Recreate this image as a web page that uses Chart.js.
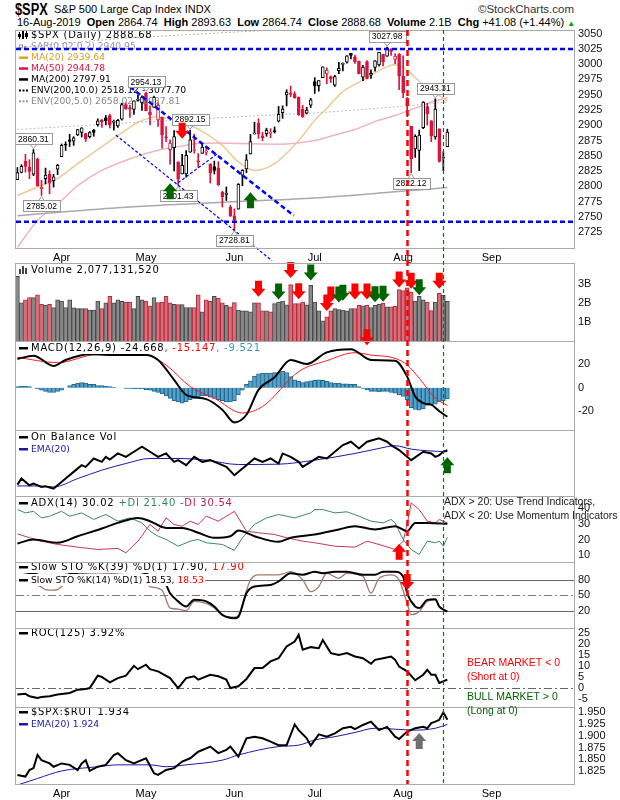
<!DOCTYPE html>
<html>
<head>
<meta charset="utf-8">
<script src="https://cdn.jsdelivr.net/npm/chart.js@4.4.1/dist/chart.umd.min.js"></script>
<style>
  body{margin:0;width:620px;height:800px;background:#fff;position:relative;overflow:hidden;font-family:"Liberation Sans",Arial,sans-serif}
  canvas{position:absolute;left:0;top:0}
  .t{position:absolute;white-space:pre;color:#000;line-height:1}
</style>
</head>
<body>
<div class="t" style="left:15px;top:2px;font-size:16px;font-weight:bold;transform:scaleX(0.8);transform-origin:left">$SPX</div>
<div class="t" style="left:54px;top:4px;font-size:11px">S&amp;P 500 Large Cap Index INDX</div>
<div class="t" style="right:46px;top:4px;font-size:11.5px;color:#333">©StockCharts.com</div>
<div class="t" style="left:17px;top:17px;font-size:11px">16-Aug-2019  <b>Open</b> 2864.74  <b>High</b> 2893.63  <b>Low</b> 2864.74  <b>Close</b> 2888.68  <b>Volume</b> 2.1B  <b>Chg</b> +41.08 (+1.44%) <span style="color:#0a0;font-size:8px">▲</span></div>
<script>
// daily bars, 15-Mar-2019 .. 16-Aug-2019 (index 0..107)
const PREV_CLOSE = 2808.48;
const OPEN = [2810.79,2822.61,2840.76,2831.34,2819.72,2844.52,2796.01,2812.66,2819.72,2809.40,2828.27,
  2848.63,2868.24,2876.09,2873.99,2884.16,2888.46,2886.58,2881.37,2891.92,2900.86,2908.32,2912.26,2916.04,2904.81,2898.78,2909.99,2934.00,2928.99,2925.81,2940.58,2937.14,
  2952.33,2922.16,2929.21,2908.89,2913.03,2879.61,2859.84,2863.10,2840.19,2820.12,2820.38,2855.80,2858.60,2841.94,2854.02,2856.06,2836.70,2832.41,2830.03,2790.25,2786.94,2766.15,
  2751.53,2762.64,2818.09,2828.51,2852.87,2885.83,2903.27,2882.73,2886.24,2886.82,2889.75,2906.71,2920.55,2949.60,2952.71,2951.42,2945.78,2926.07,2919.66,2932.94,
  2971.41,2964.66,2978.08,2984.25,2979.77,2965.52,2989.30,2999.62,3003.36,3017.80,3012.13,3005.10,2978.87,3004.26,2981.93,2994.74,2998.77,3016.26,3013.25,3024.47,3007.66,3016.22,
  2980.32,2943.90,2898.07,2861.18,2858.65,2896.21,2930.51,2907.07,2880.72,2894.15,2846.20,2864.74];
const HIGH = [2830.73,2835.41,2852.42,2843.54,2860.31,2846.16,2809.79,2829.87,2825.56,2819.71,2836.03,
  2869.40,2872.90,2885.25,2881.28,2893.24,2895.95,2886.88,2889.71,2893.42,2910.54,2909.60,2916.06,2918.00,2908.40,2909.51,2936.31,2936.83,2933.10,2939.88,2949.52,2948.22,
  2954.13,2931.68,2947.85,2937.32,2913.03,2897.96,2875.97,2891.31,2840.19,2852.54,2858.68,2892.15,2885.48,2853.86,2868.88,2865.47,2836.70,2841.36,2840.51,2792.03,2799.00,2768.98,
  2763.07,2804.49,2827.28,2852.10,2884.97,2904.77,2910.61,2888.57,2895.24,2894.45,2897.27,2930.79,2931.74,2958.06,2964.15,2954.92,2946.52,2932.59,2929.30,2943.98,
  2977.93,2973.21,2995.84,2994.03,2980.76,2981.90,3002.98,3002.33,3013.92,3017.80,3015.02,3005.26,2998.28,3006.02,2990.71,3005.90,3019.59,3016.31,3027.98,3025.61,3017.19,3017.40,
  3013.59,2945.50,2898.07,2884.40,2892.17,2938.72,2935.75,2907.58,2943.31,2894.15,2856.67,2893.63];
const LOW = [2810.79,2821.99,2823.27,2812.43,2817.38,2800.47,2785.02,2803.99,2787.72,2798.77,2819.23,
  2848.63,2858.75,2865.17,2867.14,2882.99,2880.78,2873.33,2879.13,2881.99,2898.37,2896.48,2900.71,2895.45,2891.90,2896.35,2908.53,2926.05,2912.84,2917.56,2939.35,2924.11,
  2923.36,2900.50,2929.21,2898.21,2862.60,2873.28,2836.40,2825.39,2801.43,2820.12,2815.08,2855.80,2854.23,2831.29,2854.02,2851.11,2805.49,2820.19,2801.58,2766.06,2776.74,2750.52,
  2728.81,2762.64,2800.92,2822.45,2852.87,2885.51,2878.53,2874.68,2881.99,2879.62,2887.30,2905.44,2911.43,2931.50,2946.87,2944.05,2916.01,2912.99,2918.57,2929.05,
  2952.22,2955.92,2977.96,2967.97,2970.09,2963.44,2984.62,2988.80,3001.87,3008.77,3001.15,2984.25,2973.09,2975.86,2976.65,2988.56,2996.82,2997.24,3012.59,3014.30,3000.94,2958.08,
  2945.23,2914.11,2822.12,2847.42,2825.71,2894.47,2900.15,2873.14,2877.05,2839.64,2825.51,2864.74];
const CLOSE = [2822.48,2832.94,2832.57,2824.23,2854.88,2800.71,2798.36,2818.46,2805.37,2815.44,2834.40,
  2867.19,2867.24,2873.40,2879.39,2892.74,2895.77,2878.20,2888.21,2888.32,2907.41,2905.58,2907.06,2900.45,2905.03,2907.97,2933.68,2927.25,2926.17,2939.88,2943.03,2945.83,
  2923.73,2917.52,2945.64,2932.47,2884.05,2879.42,2870.72,2881.40,2811.87,2834.41,2850.96,2876.32,2859.53,2840.23,2864.36,2856.27,2822.24,2826.06,2802.39,2783.02,2788.86,2752.06,
  2744.45,2803.27,2826.15,2843.49,2873.34,2886.73,2885.72,2879.84,2891.64,2886.98,2889.67,2917.75,2926.46,2954.18,2950.46,2945.35,2917.38,2913.78,2924.92,2941.76,
  2964.33,2973.01,2995.82,2990.41,2975.95,2979.63,2993.07,2999.91,3013.77,3014.30,3004.04,2984.42,2995.11,2976.61,2985.03,3005.47,3019.56,3003.67,3025.86,3020.97,3013.18,2980.38,
  2953.56,2932.05,2844.74,2881.77,2883.98,2938.09,2918.65,2882.70,2926.32,2840.60,2847.60,2888.68];
// volume in billions
const VOLUME = [3.4,2.0,2.17,2.28,2.28,2.43,1.93,1.88,1.93,1.76,2.17,
  2.1,1.76,2.17,1.74,1.7,1.7,1.7,1.62,1.62,2.1,1.7,2.0,2.35,2.0,2.17,2.09,2.05,2.05,1.7,2.35,2.17,
  2.1,1.84,2.28,2.02,2.05,2.35,2.0,1.93,1.91,1.91,1.76,1.76,1.76,2.43,1.53,2.17,2.09,2.35,2.26,2.0,1.88,1.79,
  2.02,1.62,1.58,1.58,1.53,2.0,2.0,1.58,1.58,1.53,1.97,2.05,2.1,1.9,2.96,1.97,1.97,2.05,1.9,2.92,
  2.05,1.58,1.06,1.27,1.58,1.7,1.65,1.62,1.58,1.7,1.7,1.88,1.85,1.88,1.76,1.88,1.93,1.99,1.79,1.79,1.82,2.7,
  2.65,2.8,2.57,2.1,2.35,2.17,2.05,1.6,2.05,2.5,2.4,2.08];

// overlays: [day index, value]
const MA20 = [[0,2785],[5,2799],[10,2813],[15,2837],[21,2865],[27,2892],[30,2905],[35,2914],[40,2906],[43,2900],[47,2886],[51,2867],[55,2840],[59,2826],[64,2837],[70,2875],[74,2908],[77,2928],[81,2955],[86,2974],[91,2993],[94,2999],[97,2990],[100,2972],[104,2953],[107,2940]];
const MA50 = [[0,2700],[5,2744],[10,2771],[15,2801],[21,2826],[28,2845],[35,2859],[40,2865],[45,2870],[50,2871],[55,2870],[65,2869],[74,2875],[79,2884],[84,2893],[89,2906],[94,2916],[99,2928],[104,2940],[107,2945]];
const MA200 = [[0,2752],[25,2765],[55,2775],[74,2781],[94,2791],[107,2798]];
const ENV5_UP = [[0,2893],[25,2903],[55,2914],[74,2920],[94,2930],[107,2938]];
const ENV10_UP = [[0,3027],[25,3042],[55,3053],[74,3059],[94,3070],[107,3078]];

const MACD_HIST = [1,1.5,1.5,1,0,-1,-2,-3,-4,-4,-3,-2,0,2,3,4,4.5,4,3,3,2,2,1.5,1,0.5,0,0,-0.5,-0.5,-1,-1,-1,-1.5,
  -2,-3,-4,-5,-7,-9,-11,-12,-13,-12,-10,-9,-8,-7,-7,-8,-9,-10,-11,-12,-12,-11,-6,-2,3,6,10,12,12.5,12.5,12.5,13,13,14,13,
  9.6,6.8,5.5,4.5,5.4,6,6.5,6.8,6.5,5.5,4.5,4,4,3.5,3.5,3,3,1,-0.5,-1.7,-3,-3,-3.5,-3,-3,-4,-4.5,-6,-7.4,-10,
  -17,-18.5,-19,-18,-15,-14.4,-14,-12,-11,-9.5];
const MACD_LINE = [[0,24.6],[4,27.5],[9,18.7],[12,23.8],[18,28.6],[25,28],[32,28],[35,23.8],[39,6.8],[42,-6],[47,-9.6],[51,-18.7],[54,-29.5],[57,-23],[60,-1.7],[64,9],[68,23.8],[72,20.4],[77,30.3],[83,33],[88,23.8],[94,23.2],[97,9.6],[99,-7.4],[101,-13],[103,-14.4],[105,-20],[107,-24.7]];
const MACD_SIGNAL = [[0,26],[10,21.5],[20,28.6],[32,28],[37,19.5],[43,1.1],[49,-8.8],[56,-21.5],[61,-16],[70,13.9],[77,23.2],[84,30],[88,28],[94,25.2],[97,19.5],[100,8.2],[104,-8.8],[107,-15.1]];

const OBV = [[0,2.2],[1,4.0],[3,2.0],[4,2.5],[6,1.5],[7,1.7],[9,1.0],[10,2.0],[12,4.0],[14,6.0],[16,8.0],[17,7.5],[19,10.0],[21,9.0],[22,10.5],[23,9.7],[25,11.5],[27,10.5],[29,12.0],[31,13.5],[33,12.0],[35,10.5],[37,11.5],[39,9.0],[40,9.5],[42,8.0],[44,10.5],[46,9.0],[48,9.5],[51,8.0],[52,7.5],[54,5.0],[57,8.0],[59,10.0],[61,9.0],[63,10.0],[65,8.5],[66,11.5],[68,10.5],[70,9.0],[71,7.5],[73,9.0],[75,10.5],[77,10.0],[79,12.0],[81,14.0],[83,15.0],[84,14.0],[85,13.0],[87,15.0],[90,16.0],[92,15.0],[93,14.0],[95,12.5],[98,9.5],[101,12.0],[103,11.5],[104,10.5],[105,11.0],[106,12.0],[107,12.5]];
const OBV_EMA = [[0,1.8],[5,1.8],[9,1.5],[15,4.0],[21,6.5],[27,8.5],[33,10.0],[40,10.0],[47,9.5],[55,8.2],[65,8.3],[74,9.5],[84,11.5],[90,13.0],[94,13.8],[98,12.8],[102,12.3],[107,12.0]];

const ADX = [[0,17.4],[4,20],[10,17.9],[15,22.1],[21,27],[25,30.6],[30,33.8],[33,31.7],[37,27.4],[41,27.4],[45,24.3],[49,21.1],[53,22.1],[55,25.7],[59,22.1],[65,18.5],[68,21.1],[74,23.2],[80,26.4],[84,28.5],[89,26.4],[94,28.5],[97,25.3],[99,30.6],[102,30.6],[107,30.0]];
const PLUS_DI = [[0,39.1],[2,37],[4,38],[6,33.8],[8,34.9],[11,38],[13,34.9],[16,37],[19,32.8],[22,36],[25,31.7],[28,33.8],[31,30.6],[33,25.3],[35,22.1],[37,20],[40,15.7],[43,18.9],[45,20],[47,17.9],[51,16.8],[54,13],[56,21.1],[59,29.6],[62,33.8],[65,36],[69,33.8],[73,37],[74,39.1],[76,39.1],[79,37],[82,37.7],[85,34.9],[88,31.7],[91,30.6],[93,32.8],[94,30.6],[96,20],[98,13.6],[100,10.4],[102,18.9],[104,17.9],[105,18.9],[106,15.7],[107,21.4]];
const MINUS_DI = [[0,23.6],[3,21.1],[6,18.9],[10,16.8],[15,15.1],[20,13.6],[25,14.3],[27,11.5],[30,18.9],[33,29.6],[35,25.3],[37,33.8],[39,29.6],[41,28.5],[43,31.7],[45,29.6],[47,34.9],[50,31.7],[54,38],[57,25.3],[60,24.3],[64,23.2],[67,21.1],[71,18.9],[74,17.9],[79,15.7],[84,15.1],[87,18.9],[90,16.8],[94,13.6],[96,18.9],[97,29.6],[98,43.4],[100,39.1],[102,31.7],[104,30.6],[105,32.8],[107,30.5]];

const STO39 = [[0,88],[4,92],[8,84],[12,90],[16,95],[20,96],[24,96],[28,97],[31,95],[34,85],[37,70],[38,54],[40,38],[42,28],[44,41],[47,38],[49,28],[51,11.5],[54,5],[55,8],[57,54],[59,67],[63,70],[65,77],[68,93],[71,90],[74,96],[76,93],[79,96],[82,96],[86,90],[89,90],[91,96],[94,96],[96,86],[97,54],[99,28],[100,25],[102,41],[104,42],[105,28],[107,17.9]];
const STO14 = [[0,85],[2,80],[4,75],[5,70],[6,66],[7,61],[9,60],[10,61],[11,67],[13,82],[16,92],[20,94],[24,92],[28,88],[31,78],[33,67],[36,60],[38,25],[40,23],[42,20],[44,38],[47,34],[49,25],[51,11.5],[54,7],[55,11.5],[58,80],[60,90],[65,90],[68,96],[71,80],[73,57],[75,67],[77,93],[80,83],[82,93],[86,87],[88,54],[90,83],[93,90],[95,80],[97,34],[98,12],[100,18],[102,38],[104,41],[105,28],[107,18.5]];

const ROC = [[0,-2.8],[2,-2.5],[3,-3.6],[5,-4.3],[6,-3.9],[8,-3.6],[10,-2.8],[13,-2.1],[15,-0.6],[17,-0.3],[18,0.1],[20,5.7],[21,5.1],[23,2.7],[25,4.6],[27,5.7],[29,10.1],[30,8.6],[32,10.6],[33,8.6],[35,7.6],[38,4.6],[40,0.1],[42,4.6],[44,5.4],[45,3.9],[48,6.1],[50,5.4],[52,3.9],[53,0.1],[55,0.9],[57,4.2],[59,9.1],[61,9.1],[63,12.1],[65,13.5],[67,18.8],[69,21],[70,24],[71,17.3],[73,18.5],[75,18],[76,21.7],[78,15.8],[80,15],[82,15.8],[84,14.3],[86,13.5],[88,11],[89,12.8],[91,13.5],[93,14.3],[94,12.8],[95,9.8],[97,7.6],[99,3.6],[101,6.1],[102,8.3],[103,6.1],[104,6.1],[105,2.4],[107,3.9]];

const RATIO = [[0,1.8165],[2,1.813],[3,1.827],[4,1.831],[5,1.859],[6,1.848],[8,1.841],[9,1.834],[11,1.841],[13,1.838],[15,1.827],[16,1.841],[17,1.848],[18,1.825],[20,1.834],[22,1.838],[24,1.859],[25,1.863],[27,1.848],[29,1.841],[30,1.845],[32,1.852],[34,1.820],[35,1.8165],[37,1.827],[39,1.831],[41,1.845],[43,1.852],[45,1.866],[47,1.873],[48,1.877],[50,1.863],[52,1.870],[53,1.877],[55,1.8555],[57,1.8946],[59,1.898],[61,1.8946],[63,1.8875],[65,1.880],[67,1.880],[69,1.924],[70,1.912],[72,1.8946],[73,1.879],[75,1.903],[77,1.898],[79,1.905],[81,1.916],[83,1.919],[84,1.914],[86,1.923],[88,1.930],[90,1.912],[92,1.919],[94,1.898],[95,1.893],[97,1.909],[99,1.916],[101,1.919],[102,1.916],[103,1.927],[104,1.930],[105,1.934],[106,1.950],[107,1.934]];
const RATIO_EMA = [[0,1.795],[5,1.809],[11,1.825],[20,1.834],[25,1.838],[33,1.838],[37,1.834],[42,1.838],[51,1.848],[55,1.859],[65,1.877],[70,1.880],[74,1.891],[79,1.898],[84,1.907],[89,1.916],[94,1.914],[99,1.912],[104,1.916],[107,1.924]];

// x axis
const MONTHS = ['Apr','May','Jun','Jul','Aug','Sep'];
const MONTH_AT = [11, 32, 54, 74, 96, 118];
const X_MIN = -0.35, X_MAX = 138.52;

// annotations
const RESISTANCE = 3025, SUPPORT = 2742;
const TRENDS = [[28, 2963, 68.8, 2752, 2.5], [24.5, 2884, 63.4, 2678, 1.2], [40, 2806, 49.9, 2854, 1.2]];
const TAGS = [[4,'H'],[6,'L'],[32,'H'],[43,'H'],[40,'L'],[54,'L'],[92,'H'],[98,'L'],[104,'H']];
const PRICE_ARROWS = [[41, 2891, -1, 'r'], [38, 2792, 1, 'g'], [58, 2777, 1, 'g']];
const VOL_ARROWS = [[60,2.75,'r'],[65,2.6,'g'],[68,3.73,'r'],[70,2.62,'r'],[73,3.6,'g'],[77,2.0,'r'],[78,2.44,'r'],[80,2.44,'g'],[81,2.54,'g'],[84,2.6,'r'],[87,2.6,'r'],[89,2.46,'g'],[91,2.49,'g'],[95,3.23,'r'],[98,3.17,'r'],[100,2.83,'g'],[105,3.17,'r'],[87,0.2,'r']];
const MARKS = [[97, '#ff0000', 2.5, [6, 4]], [106, '#008000', 1.2, [4, 3]]];

const RED = '#dc143c';
const ARROW_C = {r: '#ff0000', g: '#006400', k: '#6e6e6e'};
const LEG = '10px "DejaVu Sans"', LEG_S = '9.2px "DejaVu Sans"';
const TICK_FONT = {family: '"Liberation Sans", Arial', size: 11};

const pts = a => a.map(([x, y]) => ({x, y}));
const days = CLOSE.map((_, i) => i);
const upDay = i => CLOSE[i] >= (i ? CLOSE[i - 1] : PREV_CLOSE);
const line = (data, color, width, more) => Object.assign({type: 'line', data: pts(data), borderColor: color, borderWidth: width, pointRadius: 0, fill: false, tension: 0, order: 5}, more || {});

function arrow(c, x, y, dir, color) {
  const sw = 3.5, hw = 7, h = 8;
  c.fillStyle = color;
  c.beginPath();
  c.moveTo(x - sw, y + dir * h); c.lineTo(x + sw, y + dir * h);
  c.lineTo(x + sw, y); c.lineTo(x + hw, y); c.lineTo(x, y - dir * h); c.lineTo(x - hw, y); c.lineTo(x - sw, y);
  c.closePath(); c.fill();
}

function icon(c, kind, color, y) {
  c.fillStyle = color;
  if (kind === 'dash') c.fillRect(19, y - 1, 9, 2.5);
  if (kind === 'dots') { for (let k = 0; k < 3; k++) c.fillRect(19 + k * 3.5, y - 0.5, 2, 2); }
  if (kind === 'sar') { c.strokeStyle = color; c.lineWidth = 1; c.strokeRect(19.5, y - 1.5, 3, 3); c.fillRect(24, y - 0.5, 2, 2); }
  if (kind === 'candle') { c.fillRect(19, y - 3, 1, 7); c.fillRect(22, y - 5, 2, 9); c.fillRect(26, y - 4, 1, 8); c.fillRect(18, y - 1, 3, 3); c.fillRect(25, y - 2, 3, 4); }
  if (kind === 'bars') { c.fillRect(19, y - 1, 2, 5); c.fillRect(22, y - 4, 2, 8); c.fillRect(25, y - 2, 2, 6); }
}

function legend(c, rows, bg) {
  c.textBaseline = 'middle'; c.textAlign = 'left';
  rows.forEach(r => {
    c.font = r.small ? LEG_S : LEG;
    c.letterSpacing = r.small ? '0px' : '0.75px';
    let w = 0; r.parts.forEach(p => { w += c.measureText(p[0]).width; });
    if (bg) { c.fillStyle = '#fff'; c.fillRect(16.5, r.y - 6, 16 + w, 12); }
    if (r.icon) icon(c, r.icon, r.ic || '#000', r.y);
    let x = 31;
    r.parts.forEach(p => { c.fillStyle = p[1]; c.fillText(p[0], x, r.y + 0.5); x += c.measureText(p[0]).width; });
  });
  c.letterSpacing = '0px';
}

function tag(c, x, y, text, above) {
  c.font = '8.5px "Liberation Sans", Arial';
  c.letterSpacing = '0px';
  const w = c.measureText(text).width + 6, h = 11;
  const top = above ? y - 5 - h : y + 5;
  c.fillStyle = '#fff'; c.strokeStyle = '#999'; c.lineWidth = 1;
  c.fillRect(x - w / 2, top, w, h); c.strokeRect(Math.round(x - w / 2) + 0.5, Math.round(top) + 0.5, Math.round(w), h);
  const ty = above ? top + h : top;
  c.beginPath(); c.moveTo(x - 3, ty + 0.5); c.lineTo(x, above ? ty + 4 : ty - 4); c.lineTo(x + 3, ty + 0.5); c.stroke();
  c.fillStyle = '#000'; c.textAlign = 'center'; c.textBaseline = 'middle';
  c.fillText(text, x, top + h / 2 + 0.5);
}

const charts = [];
function panel(cfg) {
  const cv = document.createElement('canvas');
  cv.width = 620; cv.height = 800;
  document.body.appendChild(cv);
  const axisH = cfg.months ? 16 : 0;
  const deco = {
    id: 'deco',
    beforeDatasetsDraw(ch) {
      const c = ch.ctx, a = ch.chartArea;
      c.save();
      (cfg.refs || []).forEach(([v, color, dash]) => {
        const y = Math.round(ch.scales.y.getPixelForValue(v)) + 0.5;
        c.strokeStyle = color; c.lineWidth = 1; c.setLineDash(dash);
        c.beginPath(); c.moveTo(a.left, y); c.lineTo(a.right, y); c.stroke();
      });
      c.restore();
    },
    afterDatasetsDraw(ch) {
      const c = ch.ctx, a = ch.chartArea;
      c.save();
      legend(c, cfg.legend, cfg.bg);
      if (cfg.extra) cfg.extra(ch, c, v => ch.scales.x.getPixelForValue(v), v => ch.scales.y.getPixelForValue(v));
      c.setLineDash([]); c.strokeStyle = '#aaa'; c.lineWidth = 1;
      c.strokeRect(a.left - 0.5, a.top + 0.5, a.right - a.left + 1, a.bottom - a.top);
      c.restore();
    }
  };
  const ch = new Chart(cv, {
    type: 'line',
    data: {datasets: cfg.datasets},
    options: {
      responsive: false, animation: false, events: [],
      layout: {padding: {left: 16, right: 0, top: cfg.top, bottom: 800 - cfg.bottom - axisH}},
      plugins: {legend: {display: false}, tooltip: {enabled: false}},
      scales: {
        x: {type: 'linear', min: X_MIN, max: X_MAX, offset: false, display: !!cfg.months,
          grid: {display: false, drawTicks: false}, border: {display: false},
          afterBuildTicks: s => { s.ticks = MONTH_AT.map(v => ({value: v})); },
          afterFit: s => { s.height = axisH; },
          ticks: {autoSkip: false, maxRotation: 0, padding: 3, color: '#000', font: TICK_FONT,
            callback: v => MONTHS[MONTH_AT.indexOf(v)]}},
        y: {position: 'right', min: cfg.min, max: cfg.max, grid: {display: false, drawTicks: false}, border: {display: false},
          afterBuildTicks: s => { s.ticks = (cfg.ticks || []).map(v => ({value: v})); },
          afterFit: s => { s.width = 46; },
          ticks: {autoSkip: false, padding: 4, color: '#111', font: TICK_FONT, callback: cfg.fmt || (v => String(v))}}
      }
    },
    plugins: [deco]
  });
  charts.push(ch);
  return ch;
}

// price
panel({
  top: 30, bottom: 248, min: 2699, max: 3056, months: true,
  ticks: [2725,2750,2775,2800,2825,2850,2875,2900,2925,2950,2975,3000,3025,3050],
  datasets: [
    line(ENV10_UP, '#b4b4b4', 1, {borderDash: [2, 2]}),
    line(ENV5_UP, '#bdbdbd', 1, {borderDash: [2, 2]}),
    line(MA200, '#a9a9a9', 1.5, {cubicInterpolationMode: 'monotone'}),
    line(MA50, '#f1b4bf', 1.5, {cubicInterpolationMode: 'monotone'}),
    line(MA20, '#ebcb93', 1.5, {cubicInterpolationMode: 'monotone'}),
    {type: 'bar', data: days.map(i => ({x: i, y: [LOW[i], HIGH[i]]})), backgroundColor: days.map(i => upDay(i) ? '#000' : RED),
      barThickness: 1, grouped: false, order: 2},
    {type: 'bar', data: days.map(i => ({x: i, y: [Math.min(OPEN[i], CLOSE[i]), Math.max(OPEN[i], CLOSE[i])]})),
      backgroundColor: days.map(i => CLOSE[i] > OPEN[i] ? '#fff' : (upDay(i) ? '#000' : RED)),
      borderColor: days.map(i => upDay(i) ? '#000' : RED), borderWidth: 1, borderSkipped: false,
      barThickness: 3, minBarLength: 1, grouped: false, order: 1}
  ],
  legend: [
    {y: 35, icon: 'candle', parts: [['$SPX (Daily) 2888.68', '#000']]},
    {y: 46.5, small: true, icon: 'sar', ic: '#999', parts: [['SAR(0.02,0.2) 2940.95', '#999']]},
    {y: 57.5, small: true, icon: 'dash', ic: '#daa520', parts: [['MA(20) 2939.64', '#d4a020']]},
    {y: 68.3, small: true, icon: 'dash', ic: RED, parts: [['MA(50) 2944.78', RED]]},
    {y: 79.2, small: true, icon: 'dash', ic: '#000', parts: [['MA(200) 2797.91', '#000']]},
    {y: 90, small: true, icon: 'dots', ic: '#000', parts: [['ENV(200,10.0) 2518.12 - 3077.70', '#000']]},
    {y: 100.8, small: true, icon: 'dots', ic: '#999', parts: [['ENV(200,5.0) 2658.02 - 2937.81', '#888']]}
  ],
  extra(ch, c, X, Y) {
    c.strokeStyle = '#0000ff';
    [[X_MIN, RESISTANCE, X_MAX, RESISTANCE, 2.5], [X_MIN, SUPPORT, X_MAX, SUPPORT, 2.5], ...TRENDS].forEach(([x0, y0, x1, y1, w]) => {
      c.lineWidth = w; c.setLineDash(w > 2 ? [5, 3] : [3, 2]);
      c.beginPath(); c.moveTo(X(x0), Y(y0)); c.lineTo(X(x1), Y(y1)); c.stroke();
    });
    c.setLineDash([]);
    TAGS.forEach(([i, k]) => {
      const v = k === 'H' ? HIGH[i] : LOW[i];
      tag(c, X(i), Y(v), v.toFixed(2), k === 'H');
    });
    PRICE_ARROWS.forEach(([i, v, d, k]) => arrow(c, X(i), Y(v), d, ARROW_C[k]));
  }
});

// volume
panel({
  top: 263, bottom: 341, min: 0, max: 4.1, ticks: [1, 2, 3], fmt: v => v + 'B', bg: true,
  datasets: [{type: 'bar', data: days.map(i => ({x: i, y: VOLUME[i]})),
    backgroundColor: days.map(i => upDay(i) ? '#8a8a8a' : '#d6717b'),
    borderColor: days.map(i => upDay(i) ? '#474747' : '#b9283e'), borderWidth: 1, barThickness: 4, grouped: false}],
  legend: [{y: 270, icon: 'bars', ic: '#444', parts: [['Volume 2,077,131,520', '#000']]}],
  extra(ch, c, X, Y) { VOL_ARROWS.forEach(([i, v, k]) => arrow(c, X(i), Y(v), -1, ARROW_C[k])); }
});

// MACD
panel({
  top: 341, bottom: 430, min: -36, max: 40, ticks: [-20, 0, 20], bg: true,
  datasets: [
    {type: 'bar', data: days.map(i => ({x: i, y: MACD_HIST[i]})), backgroundColor: '#52a2cc', borderColor: '#24688e',
      borderWidth: 1, barThickness: 4, grouped: false, order: 9},
    line(MACD_SIGNAL, '#ff1a1a', 1, {cubicInterpolationMode: 'monotone', order: 2}),
    line(MACD_LINE, '#000', 2, {cubicInterpolationMode: 'monotone', order: 1})
  ],
  legend: [{y: 348, icon: 'dash', parts: [['MACD(12,26,9) -24.668', '#000'], [', -15.147', '#ff0000'], [', -9.521', '#3d94c4']]}]
});

// On Balance Volume
panel({
  top: 430, bottom: 496, min: -1.2, max: 18.5, ticks: [], bg: true,
  datasets: [line(OBV_EMA, '#1a1aa8', 1, {cubicInterpolationMode: 'monotone'}), line(OBV, '#000', 2, {order: 1})],
  legend: [{y: 437, icon: 'dash', parts: [['On Balance Vol', '#000']]},
           {y: 449, small: true, icon: 'dash', ic: '#1a1aa8', parts: [['EMA(20)', '#1a1aa8']]}],
  extra(ch, c, X, Y) { arrow(c, X(107), Y(8.0), 1, ARROW_C.g); }
});

// ADX
panel({
  top: 496, bottom: 562, min: 5.6, max: 47.8, ticks: [10, 20, 30, 40], bg: true,
  datasets: [line(PLUS_DI, '#3a8a5e', 1), line(MINUS_DI, '#c2345e', 1),
             line(ADX, '#000', 2, {cubicInterpolationMode: 'monotone', order: 1})],
  legend: [{y: 503, icon: 'dash', parts: [['ADX(14) 30.02 ', '#000'], ['+DI 21.40 ', '#2e8b57'], ['-DI 30.54', '#b8204e']]}],
  extra(ch, c, X, Y) { arrow(c, X(95), Y(12.1), 1, ARROW_C.r); }
});

// Slow stochastics
panel({
  top: 562, bottom: 628, min: -14, max: 115, ticks: [20, 50, 80], bg: true,
  refs: [[80, '#666', []], [50, '#777', [8, 3, 2, 3]], [20, '#666', []]],
  datasets: [line(STO14, '#a07a70', 1.3, {cubicInterpolationMode: 'monotone'}),
             line(STO39, '#000', 2, {cubicInterpolationMode: 'monotone', order: 1})],
  legend: [{y: 567, icon: 'dash', parts: [['Slow STO %K(39) %D(1) 17.90, ', '#000'], ['17.90', '#ff0000']]},
           {y: 580, small: true, icon: 'dash', parts: [['Slow STO %K(14) %D(1) 18.53, ', '#000'], ['18.53', '#ff0000']]}],
  extra(ch, c, X, Y) { arrow(c, X(97), Y(76), -1, ARROW_C.r); }
});

// ROC
panel({
  top: 628, bottom: 707, min: -8.4, max: 27.1, ticks: [-5, 0, 5, 10, 15, 20, 25], bg: true,
  refs: [[0, '#666', [8, 3, 2, 3]]],
  datasets: [line(ROC, '#000', 2)],
  legend: [{y: 633, icon: 'dash', parts: [['ROC(125) 3.92%', '#000']]}]
});

// $SPX:$RUT
panel({
  top: 707, bottom: 784, min: 1.7972, max: 1.9613, months: true, bg: true,
  ticks: [1.825, 1.85, 1.875, 1.9, 1.925, 1.95], fmt: v => v.toFixed(3),
  datasets: [line(RATIO_EMA, '#1a1aa8', 1, {cubicInterpolationMode: 'monotone'}), line(RATIO, '#000', 2, {order: 1})],
  legend: [{y: 712, icon: 'dash', parts: [['$SPX:$RUT 1.934', '#000']]},
           {y: 724, small: true, icon: 'dash', ic: '#1a1aa8', parts: [['EMA(20) 1.924', '#1a1aa8']]}],
  extra(ch, c, X, Y) { arrow(c, X(100), Y(1.889), 1, ARROW_C.k); }
});

// overlay: vertical marker lines + notes
(function () {
  const cv = document.createElement('canvas');
  cv.width = 620; cv.height = 800;
  document.body.appendChild(cv);
  const c = cv.getContext('2d');
  const xs = charts[0].scales.x;
  MARKS.forEach(([i, color, w, dash]) => {
    const x = Math.round(xs.getPixelForValue(i)) + 0.5;
    c.strokeStyle = color; c.lineWidth = w; c.setLineDash(dash);
    c.beginPath(); c.moveTo(x, 30); c.lineTo(x, 784); c.stroke();
  });
  c.setLineDash([]);
  c.textAlign = 'left'; c.textBaseline = 'middle';
  c.font = '10.5px "Liberation Sans", Arial';
  c.fillStyle = '#222';
  c.fillText('ADX > 20: Use Trend Indicators,', 444, 502);
  c.fillText('ADX < 20: Use Momentum Indicators', 444, 516);
  c.fillStyle = '#ff0000';
  c.fillText('BEAR MARKET < 0', 467, 663);
  c.fillText('(Short at 0)', 467, 677);
  c.fillStyle = '#006400';
  c.fillText('BULL MARKET > 0', 467, 697);
  c.fillText('(Long at 0)', 467, 711);
})();
</script>
</body>
</html>
